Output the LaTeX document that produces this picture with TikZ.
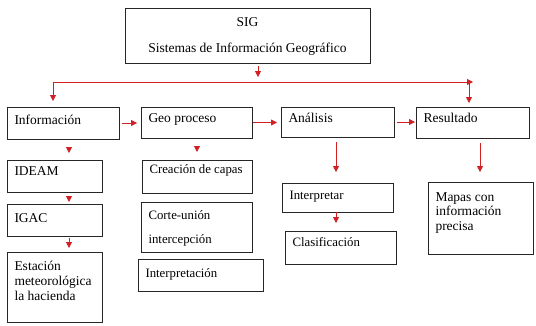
\documentclass[tikz,border=0pt]{standalone}
\usepackage{fontspec}
\setmainfont{Liberation Serif}
\usetikzlibrary{arrows.meta}
\definecolor{rojo}{RGB}{208,32,36}
\newcommand{\caja}[4]{\parbox[t][#2pt][t]{\dimexpr#1pt-15pt\relax}{\raggedright\rule{0pt}{#3pt}#4}}

\begin{document}
\begin{tikzpicture}[x=1pt,y=-1pt,>={Triangle[length=6pt,width=6pt]},
    caja/.style={draw=black!85,line width=.8pt,anchor=north west,inner xsep=7.5pt,inner ysep=0pt,outer sep=0pt,font=\fontsize{13.5}{15}\selectfont},
    cajap/.style={caja,font=\fontsize{12.8}{15}\selectfont},
    flecha/.style={draw=rojo,line width=.8pt,->}]
  \useasboundingbox (0,0) rectangle (536,325);
  \node[caja,inner xsep=0pt] (sig) at (125,8) {\parbox[t][55pt][t]{245pt}{\centering\rule{0pt}{18.3pt}SIG\\[11pt]Sistemas de Información Geográfico}};
  % fila principal
  \node[caja] (info) at (7,107) {\caja{112}{32}{17.3}{Información}};
  \node[caja] (geo) at (141,107) {\caja{111}{31}{15.3}{Geo proceso}};
  \node[caja] (analisis) at (281,107) {\caja{113}{30}{15.8}{Análisis}};
  \node[caja] (resultado) at (416,107) {\caja{113}{31}{15.3}{Resultado}};
  % columnas
  \node[caja] (ideam) at (7,160) {\caja{95}{32}{15.3}{IDEAM}};
  \node[caja] (igac) at (7,204) {\caja{95}{32}{18.3}{IGAC}};
  \node[caja] (estacion) at (7,252) {\caja{95}{70}{18.3}{Estación\\meteorológica\\la hacienda}};
  \node[cajap] (capas) at (142,160) {\caja{110}{33}{13.1}{Creación de capas}};
  \node[cajap] (corte) at (141,202) {\caja{111}{50}{17.1}{Corte-unión\\[9pt]intercepción}};
  \node[cajap] (interp) at (138,259) {\caja{125}{32}{18}{Interpretación}};
  \node[cajap] (interpretar) at (282,183) {\caja{111}{29}{16}{Interpretar}};
  \node[cajap] (clasif) at (285,231) {\caja{111}{33}{15}{Clasificación}};
  \node[caja] (mapas) at (428,182) {\caja{105}{72}{19.3}{Mapas con\\[-0.5pt]información\\[-0.5pt]precisa}};
  \coordinate (sigpie) at (258,77);
  \coordinate (busL) at (53,82);
  \coordinate (busR) at (473,82);
  \coordinate (busRes) at (469,82);
  \coordinate (colA) at (69,0);
  \coordinate (colB) at (197,0);
  \coordinate (colC) at (336,0);
  \coordinate (colD) at (480,0);
  \draw[flecha,shorten <=3pt] (sig.south -| sigpie) -- (sigpie);
  \draw[flecha,<->,shorten <=6pt] (info.north -| busL) -- (busL) -- (busR);
  \draw[flecha,shorten >=4pt] (busRes) -- (busRes |- resultado.north);
  \draw[flecha,shorten <=3pt,shorten >=4pt] (info.east) -- (info.east -| geo.west);
  \draw[flecha,shorten <=1pt,shorten >=4pt] (geo.east) -- (geo.east -| analisis.west);
  \draw[flecha,shorten <=3pt,shorten >=1pt] (analisis.east) -- (analisis.east -| resultado.west);
  \draw[flecha,shorten <=8pt,shorten >=7pt] (info.south -| colA) -- (ideam.north -| colA);
  \draw[flecha,shorten <=5pt,shorten >=2pt] (ideam.south -| colA) -- (igac.north -| colA);
  \draw[flecha,shorten <=2pt,shorten >=4pt] (igac.south -| colA) -- (estacion.north -| colA);
  \draw[flecha,shorten <=9pt,shorten >=8pt] (geo.south -| colB) -- (capas.north -| colB);
  \draw[flecha,shorten <=5pt,shorten >=11pt] (analisis.south -| colC) -- (interpretar.north -| colC);
  \draw[flecha,shorten >=8pt] (interpretar.south -| colC) -- (clasif.north -| colC);
  \draw[flecha,shorten <=5pt,shorten >=10pt] (resultado.south -| colD) -- (mapas.north -| colD);
\end{tikzpicture}
\end{document}
